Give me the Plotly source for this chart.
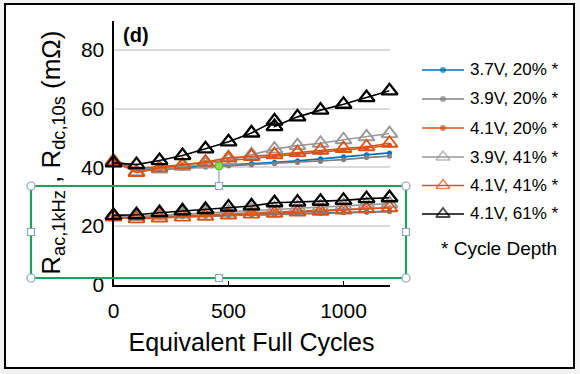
import plotly.graph_objects as go

# ---------------- data ----------------
efc = [0, 100, 200, 300, 400, 500, 600, 700, 800, 900, 1000, 1100, 1200]
efc_dup = [0, 100, 200, 300, 400, 500, 600, 700, 700, 800, 900, 1000, 1100, 1200]

series_names = ["3.7V, 20% *", "3.9V, 20% *", "4.1V, 20% *",
                "3.9V, 41% *", "4.1V, 41% *", "4.1V, 61% *"]

# R_dc,10s (mOhm)
rdc_37_20 = [41.5, 39.3, 39.5, 39.9, 40.3, 40.8, 41.3, 41.7, 42.2, 42.9, 43.6, 44.3, 44.9]
rdc_39_20 = [41.5, 39.0, 39.2, 39.6, 40.0, 40.4, 40.8, 41.2, 41.6, 42.0, 42.6, 43.3, 43.8]
rdc_41_20 = [42.5, 39.6, 40.2, 40.9, 41.6, 42.3, 43.0, 43.6, 44.3, 45.0, 45.8, 46.6, 47.5]
rdc_39_41 = [42.0, 38.5, 39.4, 40.3, 41.1, 42.4, 44.3, 46.2, 47.4, 48.2, 49.4, 50.4, 51.5]
rdc_41_41 = [42.2, 38.2, 39.8, 40.8, 41.8, 43.2, 43.7, 44.3, 45.0, 45.8, 46.4, 47.0, 48.2]
rdc_41_61 = [41.5, 40.9, 42.3, 44.0, 46.3, 48.7, 51.7, 55.8, 53.9, 57.2, 59.5, 61.5, 63.8, 66.1]

# R_ac,1kHz (mOhm)
rac_37_20 = [23.0, 22.8, 23.0, 23.2, 23.4, 23.6, 23.8, 24.0, 24.2, 24.4, 24.6, 24.8, 25.0]
rac_39_20 = [23.0, 22.7, 22.9, 23.1, 23.3, 23.5, 23.7, 23.9, 24.1, 24.3, 24.5, 24.6, 24.8]
rac_41_20 = [23.2, 22.9, 23.2, 23.5, 23.8, 24.1, 24.4, 24.7, 25.0, 25.3, 25.6, 25.9, 26.2]
rac_39_41 = [23.4, 23.2, 23.6, 24.0, 24.4, 24.8, 25.3, 25.8, 26.2, 26.5, 26.9, 27.3, 27.6]
rac_41_41 = [23.0, 22.4, 22.7, 23.0, 23.3, 23.7, 24.0, 24.3, 24.7, 25.0, 25.4, 25.8, 26.2]
rac_41_61 = [23.6, 23.8, 24.5, 25.1, 25.6, 26.4, 26.8, 27.9, 28.1, 28.4, 28.7, 29.3, 29.6]

xticks = [0, 500, 1000]
yticks = [0, 20, 40, 60, 80]

# ---------------- styling ----------------
FONT = "Arial, Liberation Sans, Helvetica, sans-serif"
colors = ["#0072BD", "#808080", "#D95319", "#999999", "#D95319", "#000000"]
symbols = ["circle", "circle", "circle", "triangle-up-open", "triangle-up-open", "triangle-up-open"]
msizes = [5, 5, 5, 14, 14, 14]
mlw = [0, 0, 0, 1.9, 1.9, 2.3]

rdc = [(efc, rdc_37_20), (efc, rdc_39_20), (efc, rdc_41_20),
       (efc, rdc_39_41), (efc, rdc_41_41), (efc_dup, rdc_41_61)]
rac = [(efc, rac_37_20), (efc, rac_39_20), (efc, rac_41_20),
       (efc, rac_39_41), (efc, rac_41_41), (efc, rac_41_61)]

W, H = 580, 374
# plot-area edges in figure pixels
PL, PR, PT, PB = 113.5, 389.5, 20.75, 284.5


def fx(x):
    return x / W


def fy(y):
    return 1 - y / H


fig = go.Figure()
for i, name in enumerate(series_names):
    for xs, ys in [rac[i], rdc[i]]:
        fig.add_trace(go.Scatter(
            x=xs, y=ys, mode="lines+markers", name=name, showlegend=False,
            line=dict(color=colors[i], width=1.6),
            marker=dict(symbol=symbols[i], size=msizes[i], color=colors[i],
                        line=dict(color=colors[i], width=mlw[i])),
            cliponaxis=False, xaxis="x", yaxis="y",
        ))

# ---- legend (drawn on a full-figure overlay axis measured in pixels) ----
leg_rows = [70, 99, 128, 157, 185.5, 214]
LX0, LX1 = 422, 464
annotations = []
for i, name in enumerate(series_names):
    yy = leg_rows[i]
    fig.add_trace(go.Scatter(
        x=[LX0, (LX0 + LX1) / 2, LX1], y=[yy, yy, yy], mode="lines+markers",
        xaxis="x2", yaxis="y2", showlegend=False, hoverinfo="skip",
        line=dict(color=colors[i], width=1.6),
        marker=dict(symbol=symbols[i], size=[0, msizes[i] - (2 if i > 2 else -1), 0],
                    color=colors[i], line=dict(color=colors[i], width=mlw[i] * 0.8)),
        cliponaxis=False,
    ))
    annotations.append(dict(text=name, xref="paper", yref="paper", x=fx(468), y=fy(yy),
                            xanchor="left", yanchor="middle", showarrow=False,
                            font=dict(size=17, family=FONT)))
annotations.append(dict(text="* Cycle Depth", xref="paper", yref="paper", x=fx(439),
                        y=fy(248), xanchor="left", yanchor="middle", showarrow=False,
                        font=dict(size=19, family=FONT)))
annotations.append(dict(text="<b>(d)</b>", xref="paper", yref="paper", x=fx(121),
                        y=fy(35), xanchor="left", yanchor="middle", showarrow=False,
                        font=dict(size=20, family=FONT)))

shapes = []
# outer frame
shapes.append(dict(type="rect", xref="paper", yref="paper", x0=fx(5), x1=fx(574),
                   y0=fy(368), y1=fy(4), line=dict(color="black", width=2),
                   fillcolor="white", layer="below"))
# selection box (screenshot decoration)
GREEN = "#1f9e5c"
HCOL = "#8aa4bd"
bx0, bx1, by0, by1 = 31, 406, 186, 278
shapes.append(dict(type="rect", xref="paper", yref="paper", x0=fx(bx0), x1=fx(bx1),
                   y0=fy(by1), y1=fy(by0), line=dict(color=GREEN, width=2.2)))
midx, midy = (bx0 + bx1) / 2 + 0.5, (by0 + by1) / 2
shapes.append(dict(type="line", xref="paper", yref="paper", x0=fx(midx), x1=fx(midx),
                   y0=fy(by0), y1=fy(166), line=dict(color=HCOL, width=1.2)))
for (cx, cy) in [(bx0, by0), (bx1, by0), (bx0, by1), (bx1, by1)]:
    shapes.append(dict(type="circle", xref="paper", yref="paper", xsizemode="pixel",
                       ysizemode="pixel", xanchor=fx(cx), yanchor=fy(cy),
                       x0=-4, x1=4, y0=-4, y1=4, fillcolor="white",
                       line=dict(color=HCOL, width=1.2)))
for (cx, cy) in [(midx, by0), (midx, by1), (bx0, midy), (bx1, midy)]:
    shapes.append(dict(type="rect", xref="paper", yref="paper", xsizemode="pixel",
                       ysizemode="pixel", xanchor=fx(cx), yanchor=fy(cy),
                       x0=-3.5, x1=3.5, y0=-3.5, y1=3.5, fillcolor="white",
                       line=dict(color=HCOL, width=1.2)))
shapes.append(dict(type="circle", xref="paper", yref="paper", xsizemode="pixel",
                   ysizemode="pixel", xanchor=fx(midx), yanchor=fy(166),
                   x0=-4, x1=4, y0=-4, y1=4, fillcolor="#8ee04a",
                   line=dict(color="#5fae2e", width=1)))

fig.update_layout(
    width=W, height=H,
    margin=dict(l=0, r=0, t=0, b=0, autoexpand=False),
    paper_bgcolor="#f3f3f3",
    plot_bgcolor="rgba(0,0,0,0)",
    font=dict(family=FONT, color="black"),
    shapes=shapes,
    annotations=annotations,
    showlegend=False,
    hovermode=False,
    xaxis=dict(
        domain=[fx(PL), fx(PR)], anchor="y", automargin=False,
        range=[0, 1200], tickvals=xticks, ticks="inside", ticklen=4, tickwidth=1.5,
        tickcolor="black", showline=True, linecolor="black", linewidth=2,
        showgrid=False, zeroline=False, tickfont=dict(size=21, family=FONT),
        ticklabelstandoff=6,
        title=dict(text="Equivalent Full Cycles", font=dict(size=25, family=FONT), standoff=13),
    ),
    yaxis=dict(
        domain=[fy(PB), fy(PT)], anchor="x", automargin=False,
        range=[0, 90], tickvals=yticks, ticks="", showline=True, linecolor="black",
        linewidth=2, showgrid=True, gridcolor="#dadada", gridwidth=1.8, zeroline=False,
        tickfont=dict(size=21, family=FONT), ticklabelstandoff=3,
        title=dict(text="R<sub>ac,1kHz</sub> , R<sub>dc,10s</sub> (mΩ)",
                   font=dict(size=26, family=FONT), standoff=13),
    ),
    xaxis2=dict(domain=[0, 1], anchor="y2", range=[0, W], visible=False, fixedrange=True),
    yaxis2=dict(domain=[0, 1], anchor="x2", range=[H, 0], visible=False, fixedrange=True),
)

fig.write_html("out.html", config={"displayModeBar": False, "staticPlot": True},
               post_script="document.body.style.margin='0px';")
